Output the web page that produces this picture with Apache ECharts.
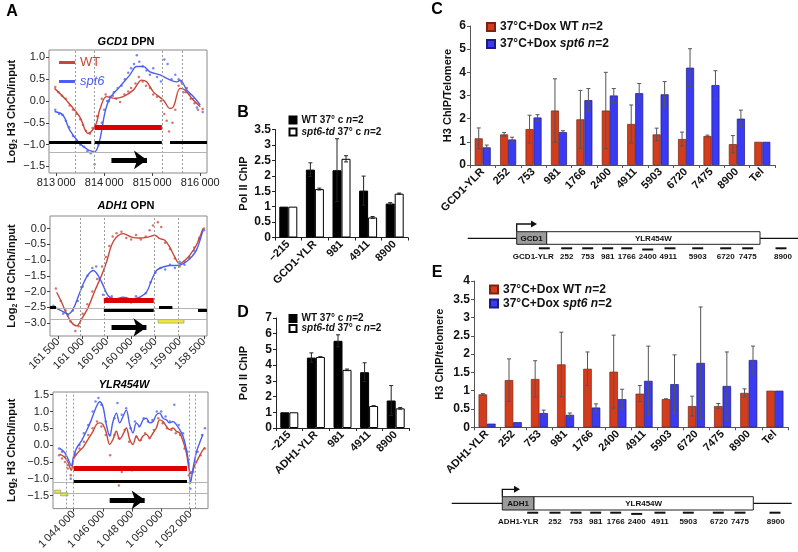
<!DOCTYPE html>
<html>
<head>
<meta charset="utf-8">
<script src="https://cdn.jsdelivr.net/npm/echarts@6/dist/echarts.min.js"></script>
<style>
html,body{margin:0;padding:0;background:#fff}
#main{width:798px;height:552px}
</style>
</head>
<body>
<div id="main"></div>
<script>
const FONT = 'Liberation Sans, Arial, Helvetica, sans-serif';
const RED = '#d33c1c', BLUE = '#3a3af4';
const RED_L = '#c9473a', BLUE_L = '#4b5ff0';

// ===== A: GCD1 DPN =====
const gcdWT = [[812965,0.29],[813209,0.02],[813488,-0.36],[813663,-0.74],[813733,-0.70],[813837,-0.51],[813907,-0.20],[814047,0.10],[814221,0.06],[814395,0.10],[814605,0.25],[814779,0.48],[814884,0.44],[815023,0.21],[815233,0.02],[815372,-0.17],[815442,-0.13],[815581,0.29],[815686,0.25],[815826,0.06],[816000,-0.13]];
const gcdSpt6 = [[812965,-0.24],[813140,-0.32],[813279,-0.66],[813488,-0.97],[813663,-1.12],[813802,-1.16],[813907,-0.89],[814012,-0.28],[814116,0.06],[814326,0.33],[814535,0.60],[814674,0.79],[814814,0.79],[814953,0.67],[815163,0.60],[815302,0.52],[815512,0.44],[815581,0.48],[815721,0.25],[815861,0.10],[816000,-0.09]];
const gcdWTPts = [[812980,0.32],[813050,0.2],[813120,0.12],[813200,0.05],[813280,-0.1],[813350,-0.2],[813420,-0.3],[813500,-0.42],[813560,-0.55],[813620,-0.68],[813700,-0.75],[813760,-0.62],[813850,-0.35],[813950,0.05],[814030,0.15],[814100,0.0],[814180,0.12],[814250,0.05],[814330,-0.02],[814420,0.15],[814500,0.22],[814560,0.3],[814650,0.4],[814720,0.55],[814800,0.45],[814870,0.35],[814950,0.3],[815020,0.15],[815100,0.1],[815180,0.0],[815250,-0.3],[815300,-0.45],[815350,-0.7],[815420,-0.5],[815480,-0.2],[815550,0.35],[815600,0.45],[815650,0.2],[815720,0.3],[815800,0.05],[815880,-0.05],[815950,-0.2],[816050,-0.18]];
const gcdSpt6Pts = [[812980,-0.2],[813060,-0.3],[813130,-0.32],[813200,-0.45],[813270,-0.6],[813350,-0.8],[813420,-0.9],[813500,-1.0],[813580,-1.05],[813650,-1.15],[813720,-1.2],[813800,-1.45],[813880,-1.0],[813950,-0.5],[814000,-0.2],[814060,0.0],[814120,0.1],[814200,0.2],[814280,0.3],[814360,0.35],[814430,0.5],[814500,0.65],[814560,0.75],[814620,0.85],[814680,1.05],[814730,0.9],[814800,0.8],[814880,0.7],[814950,0.6],[815020,0.75],[815100,0.55],[815180,0.45],[815250,0.95],[815320,0.85],[815400,0.5],[815480,0.6],[815550,0.5],[815620,0.4],[815700,0.2],[815780,0.15],[815850,0.05],[815930,-0.15],[816050,-0.25]];
const gcdXTicks = [813000, 814000, 815000, 816000];
const gcdYTicks = [1, 0.5, 0, -0.5, -1, -1.5];

// ===== A: ADH1 OPN =====
const adhWT = [[161534,-2.02],[161432,-2.34],[161329,-2.71],[161226,-2.98],[161123,-3.09],[161021,-2.87],[160884,-2.5],[160747,-1.97],[160610,-1.49],[160507,-1.06],[160404,-0.53],[160301,-0.27],[160164,-0.16],[159993,-0.27],[159822,-0.3],[159651,-0.27],[159514,-0.21],[159411,-0.32],[159308,-0.37],[159205,-0.59],[159103,-0.9],[159000,-1.12],[158897,-1.01],[158795,-0.85],[158658,-0.53],[158521,0]];
const adhSpt6 = [[161568,-2.5],[161432,-2.61],[161295,-2.71],[161192,-2.55],[161055,-2.02],[160918,-1.54],[160781,-1.33],[160678,-1.49],[160575,-1.81],[160473,-2.13],[160336,-2.23],[160164,-2.18],[159993,-2.23],[159822,-2.18],[159685,-2.02],[159582,-1.65],[159479,-1.33],[159342,-1.22],[159205,-1.17],[159068,-1.17],[158932,-1.12],[158795,-0.96],[158658,-0.69],[158521,-0.05]];
const adhWTPts = [[161550,-1.9],[161450,-2.3],[161350,-2.6],[161250,-2.95],[161150,-3.25],[161080,-3.1],[161000,-2.7],[160900,-2.4],[160800,-2.0],[160700,-1.6],[160600,-1.2],[160520,-0.9],[160450,-0.55],[160380,-0.25],[160300,-0.15],[160200,-0.1],[160100,-0.3],[160000,-0.35],[159900,-0.2],[159800,-0.35],[159700,-0.25],[159620,-0.05],[159550,0.1],[159450,0.2],[159380,0.05],[159300,-0.45],[159200,-0.65],[159100,-0.95],[159000,-1.2],[158900,-1.05],[158800,-0.95],[158700,-0.6],[158600,-0.3],[158500,0.0]];
const adhSpt6Pts = [[161600,-2.45],[161500,-2.55],[161400,-2.7],[161300,-2.75],[161200,-2.6],[161100,-2.3],[161000,-1.85],[160900,-1.5],[160800,-1.25],[160720,-1.2],[160650,-1.6],[160580,-2.1],[160500,-2.2],[160400,-2.15],[160300,-2.25],[160200,-2.3],[160100,-2.2],[160000,-2.35],[159900,-2.15],[159800,-2.25],[159700,-2.05],[159600,-1.7],[159500,-1.4],[159400,-1.25],[159300,-1.3],[159200,-1.15],[159100,-1.25],[159000,-1.05],[158900,-1.15],[158800,-0.9],[158700,-0.7],[158600,-0.35],[158500,-0.05]];
const adhXTicks = [161500, 161000, 160500, 160000, 159500, 159000, 158500];
const adhYTicks = [0, -0.5, -1, -1.5, -2, -2.5, -3];

// ===== A: YLR454W =====
const ylrWT = [[1043040,-0.27],[1043383,-0.36],[1043611,-0.51],[1043840,-0.75],[1044000,-0.41],[1044297,-0.22],[1044640,-0.07],[1044983,0.17],[1045326,0.41],[1045554,0.61],[1045783,0.66],[1046011,0.61],[1046240,0.36],[1046469,0.02],[1046697,0.17],[1046926,0.41],[1047154,0.17],[1047383,0.32],[1047611,0.51],[1047840,0.17],[1048069,0.02],[1048297,0.27],[1048526,0.12],[1048754,0.27],[1048983,0.32],[1049211,0.22],[1049440,0.36],[1049669,0.51],[1049897,0.75],[1050126,0.70],[1050354,0.56],[1050583,0.46],[1050811,0.51],[1051040,0.41],[1051269,0.36],[1051497,0.12],[1051726,-0.22],[1051909,-0.70],[1052069,-0.85],[1052297,-0.61],[1052526,-0.41],[1052754,-0.22],[1052983,-0.07]];
const ylrSpt6 = [[1043040,-0.10],[1043383,-0.22],[1043611,-0.41],[1043840,-0.61],[1044000,-0.32],[1044229,-0.07],[1044526,0.12],[1044869,0.41],[1045211,0.75],[1045554,1.14],[1045783,1.29],[1046011,1.14],[1046240,0.61],[1046469,0.27],[1046697,0.70],[1046926,0.95],[1047154,0.66],[1047383,0.85],[1047611,1.04],[1047840,0.61],[1048069,0.36],[1048297,0.66],[1048526,0.56],[1048754,0.75],[1048983,0.80],[1049211,0.66],[1049440,0.70],[1049669,0.90],[1049897,0.95],[1050126,0.80],[1050354,0.75],[1050583,0.66],[1050811,0.70],[1051040,0.61],[1051269,0.46],[1051497,0.27],[1051726,-0.12],[1051909,-0.61],[1052000,-1.14],[1052183,-0.70],[1052411,-0.22],[1052640,0.07],[1052869,0.32]];
const ylrWTPts = [[1043000,-0.3],[1043200,-0.4],[1043400,-0.5],[1043600,-0.7],[1043800,-0.9],[1044100,-0.3],[1044400,-0.1],[1044700,0.1],[1045000,0.3],[1045300,0.5],[1045600,0.7],[1045900,0.55],[1046200,0.3],[1046500,-0.3],[1046800,0.3],[1047100,0.2],[1047100,-1.2],[1047300,-0.8],[1047500,0.45],[1047800,0.1],[1048000,-0.75],[1048300,0.25],[1048600,0.15],[1048900,0.35],[1049200,0.2],[1049500,0.45],[1049800,0.8],[1050100,0.65],[1050400,0.5],[1050700,0.45],[1051000,0.35],[1051300,0.3],[1051600,-0.1],[1051900,-0.9],[1052100,-0.8],[1052400,-0.5],[1052700,-0.3],[1053000,-0.1]];
const ylrSpt6Pts = [[1043000,-0.1],[1043200,-0.2],[1043400,-0.35],[1043600,-0.6],[1043800,-1.0],[1044100,-0.25],[1044400,0.0],[1044700,0.35],[1045000,0.6],[1045300,1.0],[1045500,1.3],[1045700,1.4],[1045900,1.2],[1046200,0.7],[1046500,0.3],[1046800,0.8],[1047000,1.25],[1047300,0.9],[1047600,1.1],[1047900,0.5],[1048200,0.7],[1048500,0.55],[1048800,0.8],[1049100,0.7],[1049400,0.75],[1049700,1.0],[1050000,1.0],[1050300,0.85],[1050600,0.7],[1050900,1.2],[1051200,0.6],[1051500,0.35],[1051800,-0.2],[1052000,-1.3],[1052200,-0.8],[1052500,-0.2],[1052800,0.3],[1053000,0.5]];
const ylrXTicks = [1044000, 1046000, 1048000, 1050000, 1052000];
const ylrYTicks = [1.5, 1, 0.5, 0, -0.5, -1, -1.5];

// ===== B / D: Pol II ChIP =====
const bCats = ['\u2212215', 'GCD1-YLR', '981', '4911', '8900'];
const bWT = [1, 2.2, 2.18, 1.52, 1.1];
const bWTErr = [0, 0.22, 1.02, 0.47, 0.03];
const bSpt6 = [1, 1.57, 2.55, 0.65, 1.42];
const bSpt6Err = [0, 0.03, 0.1, 0.03, 0.02];

const dCats = ['\u2212215', 'ADH1-YLR', '981', '4911', '8900'];
const dWT = [1, 4.48, 5.55, 3.55, 1.75];
const dWTErr = [0, 0.3, 0.38, 0.6, 0.95];
const dSpt6 = [1, 4.52, 3.7, 1.4, 1.25];
const dSpt6Err = [0, 0.02, 0.05, 0.02, 0.05];

// ===== C / E: H3 ChIP =====
const cCats = ['GCD1-YLR','252','753','981','1766','2400','4911','5903','6720','7475','8900','Tel'];
const cWT = [1.15,1.32,1.55,2.35,1.97,2.35,1.77,1.32,1.12,1.25,0.9,1];
const cWTErr = [0.45,0.08,0.6,1.37,1.25,1.65,0.82,0.27,0.3,0.04,0.37,0];
const cSpt6 = [0.76,1.1,2.05,1.42,2.8,3.0,3.1,3.05,4.2,3.45,2.0,1];
const cSpt6Err = [0.1,0.1,0.12,0.06,0.5,0.3,0.42,0.55,0.82,0.62,0.37,0];

const eCats = ['ADH1-YLR','252','753','981','1766','2400','4911','5903','6720','7475','8900','Tel'];
const eWT = [0.9,1.29,1.32,1.72,1.6,1.52,0.92,0.77,0.58,0.58,0.94,1];
const eWTErr = [0.02,0.58,0.5,0.88,0.46,1.0,0.22,0.01,0.27,0.07,0.11,0];
const eSpt6 = [0.1,0.14,0.39,0.34,0.54,0.77,1.27,1.18,1.76,1.13,1.84,1];
const eSpt6Err = [0,0,0.08,0.05,0.1,0.27,0.95,0.8,1.53,0.93,0.38,0];

const probeNames = ['252','753','981','1766','2400','4911','5903','6720','7475','8900'];

// names
const N_BWT = 'WT 37° c n=2', N_BSP = 'spt6-td 37° c n=2';
const N_CWT = '37°C+Dox WT n=2', N_CSP = '37°C+Dox spt6 n=2';

const fmtK = v => String(Math.round(v)).replace(/\B(?=(\d{3})+(?!\d))/g, '\u2009');
const fmtDec = v => (v < 0 ? '\u2212' : '') + Math.abs(v).toFixed(1);
const legendFmt = s => s.replace(/spt6(-td)?/, m => '{i|' + m + '}').replace('n=2', '{i|n}=2');

// ---------- panel A helpers ----------
function aX(g, min, max, ticks, rotate, inverse) {
  return {
    gridIndex: g, type: 'value', min: min, max: max, inverse: !!inverse,
    axisLine: {show: false, onZero: false},
    splitLine: {show: false},
    axisTick: {show: true, customValues: ticks, length: 3, lineStyle: {color: '#444'}},
    axisLabel: {customValues: ticks, rotate: rotate, fontSize: 11, color: '#222', margin: 4,
      fontFamily: FONT, formatter: fmtK}
  };
}
function aY(g, min, max, ticks, gap) {
  return {
    gridIndex: g, type: 'value', min: min, max: max,
    axisLine: {show: false, onZero: false},
    splitLine: {show: false},
    axisTick: {show: true, customValues: ticks, length: 3, lineStyle: {color: '#444'}},
    axisLabel: {customValues: ticks, fontSize: 11, color: '#222', margin: 4, fontFamily: FONT, formatter: fmtDec},
    name: '{n|Log}{s|2}{n| H3 ChCh/input}', nameLocation: 'middle', nameGap: gap, nameRotate: 90,
    nameTextStyle: {rich: {
      n: {fontSize: 11, fontWeight: 'bold', fontFamily: FONT, color: '#111', lineHeight: 14},
      s: {fontSize: 7, fontWeight: 'bold', fontFamily: FONT, color: '#111', lineHeight: 8, verticalAlign: 'bottom'}
    }}
  };
}
// gene feature marks drawn in data coordinates
function featureMarks(f) {
  const items = [];
  f.dashed.forEach(x => items.push({xAxis: x, lineStyle: {type: [2, 2], color: '#9a9a9a', width: 1}}));
  f.guides.forEach(y => items.push({yAxis: y, lineStyle: {type: 'solid', color: '#b4b4b4', width: 1}}));
  f.red.forEach(r => items.push([{coord: [r[0], r[2]], lineStyle: {color: '#dd0000', width: 5, type: 'solid'}}, {coord: [r[1], r[2]]}]));
  f.black.forEach(r => items.push([{coord: [r[0], r[2]], lineStyle: {color: '#000', width: 3, type: 'solid'}}, {coord: [r[1], r[2]]}]));
  const a = f.arrow;
  items.push([{coord: [a[0], a[2]], symbol: 'none', lineStyle: {color: '#000', width: 5, type: 'solid'}},
    {coord: [a[1], a[2]], symbol: 'arrow', symbolSize: [14, 13]}]);
  return items;
}
function aSeries(g, wt, sp, wtPts, spPts, f) {
  return [
    {type: 'scatter', name: 'WT pts', xAxisIndex: g, yAxisIndex: g, data: wtPts, symbolSize: 2.5,
      itemStyle: {color: RED_L, opacity: 0.75}, silent: true, z: 2,
      markLine: {silent: true, symbol: 'none', label: {show: false}, animation: false, data: featureMarks(f)},
      markArea: {silent: true, data: f.yellow.map(b => [
        {coord: [b[0], b[2]], itemStyle: {color: '#f2e83a', borderColor: '#888', borderWidth: 0.6}},
        {coord: [b[1], b[3]]}])}
    },
    {type: 'scatter', name: 'spt6 pts', xAxisIndex: g, yAxisIndex: g, data: spPts, symbolSize: 2.5,
      itemStyle: {color: BLUE_L, opacity: 0.75}, silent: true, z: 2},
    {type: 'line', name: 'WT', xAxisIndex: g, yAxisIndex: g, data: wt, smooth: 0.35, showSymbol: false,
      lineStyle: {color: RED_L, width: 1.4}, itemStyle: {color: RED_L}, z: 4, silent: true},
    {type: 'line', name: 'spt6', xAxisIndex: g, yAxisIndex: g, data: sp, smooth: 0.35, showSymbol: false,
      lineStyle: {color: BLUE_L, width: 1.4}, itemStyle: {color: BLUE_L}, z: 4, silent: true}
  ];
}

const gcdFeat = {dashed: [813400, 813790, 815200, 815620], guides: [-1.18],
  red: [[813800, 815200, -0.59]],
  black: [[812850, 813730, -0.95], [813800, 815200, -0.95], [815370, 816140, -0.95]],
  arrow: [814150, 814890, -1.35], yellow: []};
const adhFeat = {dashed: [161055, 160562, 159534, 159034], guides: [-2.53, -2.87],
  red: [[160562, 159534, -2.28]],
  black: [[161671, 161548, -2.5], [160562, 159534, -2.59], [159425, 159151, -2.5], [158623, 158438, -2.59]],
  arrow: [160404, 159685, -3.14], yellow: [[159445, 158911, -2.89, -3.0]]};
const ylrFeat = {dashed: [1043497, 1044000, 1051909, 1052343], guides: [-1.12, -1.43],
  red: [[1044000, 1051771, -0.70]],
  black: [[1044000, 1051771, -1.07]],
  arrow: [1046469, 1048869, -1.63],
  yellow: [[1042697, 1043109, -1.34, -1.43], [1043109, 1043611, -1.42, -1.51]]};

// ---------- bar panel helpers ----------
function barX(g, cats, axisColor) {
  return {gridIndex: g, type: 'category', data: cats,
    axisLine: {onZero: false, lineStyle: {color: axisColor, width: 1}},
    axisTick: {show: true, length: 3, lineStyle: {color: axisColor}},
    axisLabel: {rotate: 45, interval: 0, fontSize: 11, fontWeight: 'bold', color: '#111', margin: 5, fontFamily: FONT}};
}
function barY(g, max, interval, name, gap, axisColor) {
  return {gridIndex: g, type: 'value', min: 0, max: max, interval: interval,
    axisLine: {show: true, onZero: false, lineStyle: {color: axisColor, width: 1}},
    axisTick: {show: true, length: 3, lineStyle: {color: axisColor}},
    splitLine: {show: false},
    axisLabel: {fontSize: 12, fontWeight: 'bold', color: '#111', margin: 4, fontFamily: FONT},
    name: name, nameLocation: 'middle', nameGap: gap,
    nameTextStyle: {fontSize: 11, fontWeight: 'bold', color: '#111', fontFamily: FONT}};
}
function errSeries(g, vals, errs, side, bw, color) {
  const data = [];
  vals.forEach((v, i) => { if (errs[i] > 0) data.push([i, v - errs[i], v + errs[i]]); });
  return {type: 'custom', xAxisIndex: g, yAxisIndex: g, silent: true, z: 5, data: data,
    encode: {x: 0, y: [1, 2]},
    renderItem: function (params, api) {
      const lo = api.coord([api.value(0), api.value(1)]);
      const hi = api.coord([api.value(0), api.value(2)]);
      const x = lo[0] + side * bw / 2, c = 2;
      const st = {stroke: color, lineWidth: 1};
      return {type: 'group', children: [
        {type: 'line', shape: {x1: x, y1: lo[1], x2: x, y2: hi[1]}, style: st},
        {type: 'line', shape: {x1: x - c, y1: hi[1], x2: x + c, y2: hi[1]}, style: st},
        {type: 'line', shape: {x1: x - c, y1: lo[1], x2: x + c, y2: lo[1]}, style: st}
      ]};
    }};
}
function barPair(g, wt, wtErr, sp, spErr, names, bw, wtStyle, spStyle, errColor) {
  return [
    {type: 'bar', name: names[0], xAxisIndex: g, yAxisIndex: g, data: wt, barWidth: bw, barGap: '0%', itemStyle: wtStyle, silent: true},
    {type: 'bar', name: names[1], xAxisIndex: g, yAxisIndex: g, data: sp, barWidth: bw, barGap: '0%', itemStyle: spStyle, silent: true},
    errSeries(g, wt, wtErr, -1, bw, errColor),
    errSeries(g, sp, spErr, 1, bw, errColor)
  ];
}

// ---------- gene diagrams (schematic) ----------
function geneDiagram(d) {
  const els = [];
  const S = {stroke: '#111', lineWidth: 1.3};
  els.push({type: 'line', shape: {x1: d.x1, y1: d.lineY, x2: d.x2, y2: d.lineY}, style: S});
  els.push({type: 'rect', shape: {x: d.boxL, y: d.boxTop, width: d.boxM - d.boxL, height: d.boxH}, style: {fill: '#9b9b9b', stroke: '#222', lineWidth: 1}});
  els.push({type: 'rect', shape: {x: d.boxM, y: d.boxTop, width: d.boxR - d.boxM, height: d.boxH}, style: {fill: '#fff', stroke: '#222', lineWidth: 1}});
  els.push({type: 'text', x: (d.boxL + d.boxM) / 2, y: d.boxTop + d.boxH / 2 + 0.5,
    style: {text: d.gene, font: 'bold 8px ' + FONT, fill: '#111', align: 'center', verticalAlign: 'middle'}});
  els.push({type: 'text', x: (d.boxM + d.boxR) / 2, y: d.boxTop + d.boxH / 2 + 0.5,
    style: {text: 'YLR454W', font: 'bold 8px ' + FONT, fill: '#111', align: 'center', verticalAlign: 'middle'}});
  els.push({type: 'polyline', shape: {points: [[d.boxL, d.boxTop], [d.boxL, d.arrowY], [d.arrowX - 5, d.arrowY]]}, style: {stroke: '#111', lineWidth: 1.3, fill: null}});
  els.push({type: 'polygon', shape: {points: [[d.arrowX - 6, d.arrowY - 3.5], [d.arrowX, d.arrowY], [d.arrowX - 6, d.arrowY + 3.5]]}, style: {fill: '#111'}});
  d.dashX.forEach((x, i) => {
    const y = d.dashY + (i === 5 ? 1.2 : 0);
    els.push({type: 'line', shape: {x1: x - 5.5, y1: y, x2: x + 5.5, y2: y}, style: {stroke: '#111', lineWidth: 2}});
  });
  d.labels.forEach((t, i) => {
    els.push({type: 'text', x: d.labelX[i], y: d.labelY,
      style: {text: t, font: 'bold 8px ' + FONT, fill: '#111', align: 'center', verticalAlign: 'middle'}});
  });
  return els;
}
const cDiagram = {x1: 467.7, x2: 798, lineY: 238.3, boxL: 516.7, boxM: 546.7, boxR: 760, boxTop: 231.7, boxH: 12.6,
  gene: 'GCD1', arrowY: 224, arrowX: 537,
  dashX: [544.3, 566.7, 587.7, 607.7, 626.7, 647.7, 670, 697.7, 725.7, 747.7, 781], dashY: 248.3,
  labels: ['GCD1-YLR'].concat(probeNames),
  labelX: [533.3, 566.7, 587.7, 607.7, 626.7, 647.7, 668.3, 697.7, 725.7, 747.7, 783], labelY: 256.7};
const eDiagram = {x1: 451.7, x2: 791.7, lineY: 503.3, boxL: 502.3, boxM: 534, boxR: 753.3, boxTop: 496.7, boxH: 13.3,
  gene: 'ADH1', arrowY: 489.3, arrowX: 520,
  dashX: [532.7, 555, 576, 595.7, 615.7, 636.7, 660, 688.3, 718.3, 740, 775], dashY: 512.7,
  labels: ['ADH1-YLR'].concat(probeNames),
  labelX: [518.3, 555, 576, 595.7, 615.7, 636.7, 660, 688.3, 719, 740, 775.7], labelY: 521.7};

function txt(x, y, text, font, extra) {
  return {type: 'text', x: x, y: y, z: 100,
    style: Object.assign({text: text, font: font, fill: '#000', align: 'center', verticalAlign: 'middle'}, extra || {})};
}
const italicRich = {i: {fontStyle: 'italic', fontWeight: 'bold', fontSize: 11, fontFamily: FONT}};

const gridBox = {show: true, borderColor: '#888', borderWidth: 1, backgroundColor: 'transparent'};
const legendRich = sz => ({i: {fontStyle: 'italic', fontWeight: 'bold', fontSize: sz, fontFamily: FONT, color: '#111'}});

const option = {
  animation: false,
  backgroundColor: '#fff',
  textStyle: {fontFamily: FONT},
  grid: [
    Object.assign({left: 49, top: 50, width: 158, height: 123}, gridBox),
    Object.assign({left: 50, top: 216, width: 157, height: 120}, gridBox),
    Object.assign({left: 53, top: 392, width: 155, height: 119}, gridBox),
    {left: 275, top: 129.5, width: 133, height: 108},
    {left: 470, top: 26, width: 305, height: 139},
    {left: 276, top: 318, width: 133, height: 110},
    {left: 474, top: 281, width: 314, height: 146.3}
  ],
  xAxis: [
    aX(0, 812850, 816140, gcdXTicks, 0, false),
    aX(1, 158438, 161671, adhXTicks, 45, true),
    aX(2, 1042583, 1053211, ylrXTicks, 45, false),
    barX(3, bCats, '#222'),
    barX(4, cCats, '#555'),
    barX(5, dCats, '#222'),
    barX(6, eCats, '#555')
  ],
  yAxis: [
    aY(0, -1.65, 1.17, gcdYTicks, 30),
    aY(1, -3.41, 0.4, adhYTicks, 31),
    aY(2, -1.89, 1.58, ylrYTicks, 34),
    barY(3, 3.5, 0.5, 'Pol II ChIP', 26, '#222'),
    barY(4, 6, 1, 'H3 ChIP/Telomere', 17, '#555'),
    barY(5, 7, 1, 'Pol II ChIP', 27, '#222'),
    barY(6, 4, 0.5, 'H3 ChIP/telomere', 29, '#555')
  ],
  legend: [
    {left: 54, top: 51, orient: 'vertical', itemGap: 6, itemWidth: 16, itemHeight: 3, icon: 'rect', selectedMode: false,
      data: [{name: 'WT', textStyle: {color: RED_L}}, {name: 'spt6', textStyle: {color: BLUE_L, fontStyle: 'italic'}}],
      textStyle: {fontSize: 13, fontFamily: FONT}},
    {left: 283.5, top: 110, orient: 'vertical', itemGap: 2, itemWidth: 7, itemHeight: 7, icon: 'rect', selectedMode: false,
      data: [N_BWT, N_BSP], formatter: legendFmt,
      textStyle: {fontSize: 10, fontWeight: 'bold', color: '#111', fontFamily: FONT, rich: legendRich(10)}},
    {left: 283.5, top: 308.5, orient: 'vertical', itemGap: 0, itemWidth: 7, itemHeight: 7, icon: 'rect', selectedMode: false,
      data: [N_BWT, N_BSP], formatter: legendFmt,
      textStyle: {fontSize: 10, fontWeight: 'bold', color: '#111', fontFamily: FONT, rich: legendRich(10)}},
    {left: 481, top: 16, orient: 'vertical', itemGap: 5, itemWidth: 8, itemHeight: 8, icon: 'rect', selectedMode: false,
      data: [N_CWT, N_CSP], formatter: legendFmt,
      textStyle: {fontSize: 12, fontWeight: 'bold', color: '#111', fontFamily: FONT, rich: legendRich(12)}},
    {left: 484, top: 278.5, orient: 'vertical', itemGap: 2, itemWidth: 8, itemHeight: 8, icon: 'rect', selectedMode: false,
      data: [N_CWT, N_CSP], formatter: legendFmt,
      textStyle: {fontSize: 12, fontWeight: 'bold', color: '#111', fontFamily: FONT, rich: legendRich(12)}}
  ],
  series: [].concat(
    aSeries(0, gcdWT, gcdSpt6, gcdWTPts, gcdSpt6Pts, gcdFeat),
    aSeries(1, adhWT, adhSpt6, adhWTPts, adhSpt6Pts, adhFeat),
    aSeries(2, ylrWT, ylrSpt6, ylrWTPts, ylrSpt6Pts, ylrFeat),
    barPair(3, bWT, bWTErr, bSpt6, bSpt6Err, [N_BWT, N_BSP], 9,
      {color: '#000', borderColor: '#000', borderWidth: 1}, {color: '#fff', borderColor: '#000', borderWidth: 1}, '#222'),
    barPair(4, cWT, cWTErr, cSpt6, cSpt6Err, [N_CWT, N_CSP], 8,
      {color: RED, borderColor: '#7a2410', borderWidth: 0.7}, {color: BLUE, borderColor: '#1a1a80', borderWidth: 0.7}, '#555'),
    barPair(5, dWT, dWTErr, dSpt6, dSpt6Err, [N_BWT, N_BSP], 9,
      {color: '#000', borderColor: '#000', borderWidth: 1}, {color: '#fff', borderColor: '#000', borderWidth: 1}, '#222'),
    barPair(6, eWT, eWTErr, eSpt6, eSpt6Err, [N_CWT, N_CSP], 8.5,
      {color: RED, borderColor: '#7a2410', borderWidth: 0.7}, {color: BLUE, borderColor: '#1a1a80', borderWidth: 0.7}, '#555')
  ),
  graphic: [].concat(
    [
      txt(12, 12, 'A', 'bold 16px ' + FONT),
      txt(243, 113, 'B', 'bold 16px ' + FONT),
      txt(437, 10, 'C', 'bold 16px ' + FONT),
      txt(243, 313, 'D', 'bold 16px ' + FONT),
      txt(437, 273, 'E', 'bold 16px ' + FONT),
      txt(126, 42, '{i|GCD1} DPN', 'bold 11px ' + FONT, {rich: italicRich}),
      txt(126, 206, '{i|ADH1} OPN', 'bold 11px ' + FONT, {rich: italicRich}),
      txt(124, 385, '{i|YLR454W}', 'bold 11px ' + FONT, {rich: italicRich})
    ],
    geneDiagram(cDiagram),
    geneDiagram(eDiagram)
  )
};

const myChart = echarts.init(document.getElementById('main'));
myChart.setOption(option);
</script>
</body>
</html>
